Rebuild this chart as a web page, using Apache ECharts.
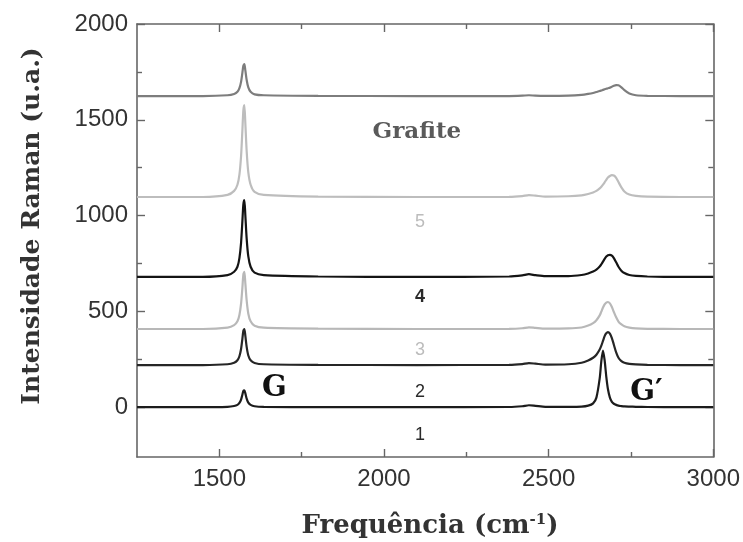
<!DOCTYPE html>
<html><head><meta charset="utf-8">
<script src="https://cdn.jsdelivr.net/npm/echarts@6/dist/echarts.min.js"></script>
<style>html,body{margin:0;padding:0;background:#fff}#c{width:743px;height:542px}</style>
</head><body><div id="c"></div>
<script>
// Raman shift (cm-1) sample positions
const freq = [1250,1450,1525,1545,1555,1561,1566,1570,1573,1576,1579,1583,1588,1595,1607,1635,
  1800,2100,2380,2420,2440,2460,2490,
  2560,2600,2620,2635,2645,2655,2660,2665,2670,2675,2680,2686,2692,2698,2705,2712,2720,2730,2745,2765,2800,2900,3000];

const layer1 = [0,0,2,6,12,22,40,65,85,88,72,45,24,12,5,2,
  0,0,1,5,10,7,2,
  2,3,8,20,50,150,240,295,245,160,95,50,28,18,12,8,6,4,3,2,1,0,0];
const layer2 = [220,220,224,232,245,266,304,357,399,408,372,315,270,245,231,224,
  221,220,221,225,230,227,222,
  224,232,244,258,274,301,321,346,371,386,392,384,361,326,286,258,242,232,226,223,221,220,220];
const layer3 = [408,408,415,428,448,481,540,623,692,706,646,557,488,448,425,415,
  410,408,409,412,417,414,410,
  411,416,426,439,454,479,499,520,537,546,549,542,523,497,469,447,433,422,415,411,409,408,408];
const layer4 = [680,680,689,707,733,778,858,970,1059,1081,1001,880,787,733,702,689,
  682,680,682,688,694,689,684,
  684,690,698,708,718,734,746,760,774,786,793,795,791,778,756,733,714,700,690,685,682,680,680];
const layer5 = [1097,1097,1108,1129,1161,1214,1310,1444,1550,1577,1481,1337,1225,1161,1124,1108,
  1099,1097,1098,1102,1107,1104,1099,
  1101,1106,1113,1121,1129,1142,1151,1162,1174,1187,1199,1207,1211,1209,1197,1175,1150,1126,1110,1103,1099,1097,1097];
const grafite = [1624,1624,1628,1635,1646,1665,1698,1745,1782,1791,1758,1708,1669,1646,1633,1628,
  1625,1624,1624,1626,1628,1626,1625,
  1626,1630,1635,1640,1645,1650,1653,1656,1659,1662,1665,1668,1673,1678,1681,1680,1671,1655,1637,1628,1625,1624,1624];

const seriesNames = ['1','2','3','4','5','Grafite'];
const xMajorTicks = [1500,2000,2500,3000];
const xMinorTicks = [1750,2250,2750];
const yMajorTicks = [0,500,1000,1500,2000];
const yMinorTicks = [250,750,1250,1750];

// annotations (data coordinates)
const annotText = ['Grafite','5','4','3','2','1','G','G\u2032'];
const annotX = [2100,2109,2109,2109,2109,2109,1667,2797];
const annotY = [1436,967,575,298,79,-145,100,79];

const chart = echarts.init(document.getElementById('c'), null, {renderer:'canvas'});
const frame = {color:'#666', width:1.6};
const tickStyle = {color:'#666', width:1.4};
const XMIN = 1250, XMAX = 3000, YMIN = -260, YMAX = 2000;
const plain = v => String(v);

function xAx(pos, ticks, len, main, lbl){
  return {type:'value', min:XMIN, max:XMAX, position:pos, offset:0,
    axisLine:{show:main, onZero:false, lineStyle:frame},
    axisTick:{show:true, inside:true, length:len, customValues:ticks, lineStyle:tickStyle},
    axisLabel:{show:lbl, customValues:ticks, formatter:plain, fontSize:24, color:'#333', margin:10, fontFamily:'Liberation Sans'},
    splitLine:{show:false}};
}
function yAx(pos, ticks, len, main, lbl){
  return {type:'value', min:YMIN, max:YMAX, position:pos, offset:0,
    axisLine:{show:main, onZero:false, lineStyle:frame},
    axisTick:{show:true, inside:true, length:len, customValues:ticks, lineStyle:tickStyle},
    axisLabel:{show:lbl, customValues:ticks, formatter:plain, fontSize:24, color:'#333', margin:9, fontFamily:'Liberation Sans'},
    splitLine:{show:false}};
}

const layers = [layer1, layer2, layer3, layer4, layer5, grafite];
const colors = ['#1c1c1c','#262626','#b8b8b8','#141414','#bdbdbd','#7d7d7d'];

chart.setOption({
  animation:false,
  backgroundColor:'#fff',
  grid:{left:137, right:29, top:24, bottom:85, containLabel:false},
  xAxis:[xAx('bottom',xMajorTicks,8,true,true), xAx('bottom',xMinorTicks,5,false,false),
         xAx('top',xMajorTicks,8,true,false), xAx('top',xMinorTicks,5,false,false)],
  yAxis:[yAx('left',yMajorTicks,8,true,true), yAx('left',yMinorTicks,5,false,false),
         yAx('right',yMajorTicks,8,true,false), yAx('right',yMinorTicks,5,false,false)],
  series: layers.map((vals, k) => ({
    name: seriesNames[k], type:'line', xAxisIndex:0, yAxisIndex:0,
    showSymbol:false, smooth:0.25, silent:true,
    lineStyle:{color:colors[k], width:2.2},
    data: freq.map((f, i) => [f, vals[i]])
  }))
});

const annotStyles = [
  {font:'bold 23px "DejaVu Serif"', fill:'#5a5a5a'},
  {font:'18px "Liberation Sans"', fill:'#bcbcbc'},
  {font:'bold 18px "Liberation Sans"', fill:'#2a2a2a'},
  {font:'18px "Liberation Sans"', fill:'#bcbcbc'},
  {font:'18px "Liberation Sans"', fill:'#2a2a2a'},
  {font:'18px "Liberation Sans"', fill:'#2a2a2a'},
  {font:'bold 29px "DejaVu Serif"', fill:'#111'},
  {font:'bold 29px "DejaVu Serif"', fill:'#111'}
];
const graphics = annotText.map((t, i) => {
  const p = chart.convertToPixel({xAxisIndex:0, yAxisIndex:0}, [annotX[i], annotY[i]]);
  return {type:'text', x:p[0], y:p[1], silent:true,
    style:Object.assign({text:t, align:'center', verticalAlign:'middle'}, annotStyles[i])};
});
graphics.push({type:'text', x:32, y:226, rotation:Math.PI/2, silent:true,
  style:{text:'Intensidade Raman (u.a.)', font:'bold 25px "DejaVu Serif"', fill:'#333', align:'center', verticalAlign:'middle'}});
graphics.push({type:'text', x:430, y:526, silent:true,
  style:{text:'Frequência (cm{sup|-1})', font:'bold 26px "DejaVu Serif"', fill:'#333', align:'center', verticalAlign:'middle',
    rich:{sup:{font:'bold 15px "DejaVu Serif"', fill:'#333', verticalAlign:'top', padding:[0,0,12,0]}}}});
chart.setOption({graphic:graphics});
</script></body></html>
